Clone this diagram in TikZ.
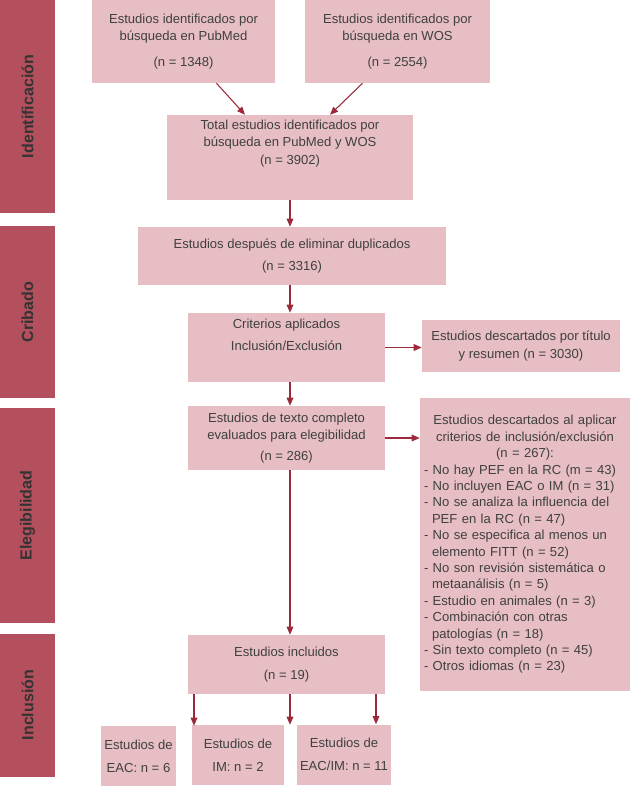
\documentclass[tikz,border=0pt]{standalone}
\usepackage{fontspec}
\setmainfont{Liberation Sans}
\usetikzlibrary{arrows.meta, positioning, calc}
\definecolor{boxpink}{HTML}{E6BEC4}
\definecolor{barred}{HTML}{B4505E}
\definecolor{arrowred}{HTML}{9C2A3C}

\begin{document}
\begin{tikzpicture}[x=0.75pt, y=-0.75pt, >={Triangle[width=5pt,length=6pt]},
    box/.style={fill=boxpink, inner sep=2pt, align=center, font=\fontsize{9.8}{13}\selectfont, text=black!75},
    stage/.style={fill=barred, text=black!80, font=\bfseries\fontsize{12}{14}\selectfont, rotate=90},
    flow/.style={->, arrowred, thick}
  ]
  \useasboundingbox (0,0) rectangle (631,799);

  % stage bars on the left
  \node[stage, minimum width=213*0.75pt, minimum height=55*0.75pt] (sId) at (27.5,106.5) {Identificación};
  \node[stage, minimum width=172*0.75pt, minimum height=55*0.75pt] (sCr) at (27.5,312) {Cribado};
  \node[stage, minimum width=215*0.75pt, minimum height=55*0.75pt] (sEl) at (27.5,515.5) {Elegibilidad};
  \node[stage, minimum width=143*0.75pt, minimum height=55*0.75pt] (sIn) at (27.5,705) {Inclusión};

  % identification boxes
  \node[box, minimum width=183*0.75pt, minimum height=83*0.75pt] (pub) at (183.5,41.5)
    {Estudios identificados por\\búsqueda en PubMed\\[6pt](n = 1348)};
  \node[box, minimum width=185*0.75pt, minimum height=83*0.75pt] (wos) at (397.5,41.5)
    {Estudios identificados por\\búsqueda en WOS\\[6pt](n = 2554)};
  \node[box, minimum width=246*0.75pt, minimum height=85*0.75pt] (tot) at (290,157.5)
    {Total estudios identificados por\\búsqueda en PubMed y WOS\\(n = 3902)\\[10pt]};

  % screening
  \node[box, minimum width=308*0.75pt, minimum height=58*0.75pt] (dup) at (292,256)
    {Estudios después de eliminar duplicados\\[4pt](n = 3316)};
  \node[box, minimum width=197*0.75pt, minimum height=69*0.75pt] (crit) at (286.5,347.5)
    {Criterios aplicados\\[3pt]Inclusión/Exclusión\\[6pt]};
  \node[box, minimum width=198*0.75pt, minimum height=52*0.75pt] (desc1) at (521,346)
    {Estudios descartados por título\\y resumen (n = 3030)};

  % eligibility
  \node[box, minimum width=197*0.75pt, minimum height=64*0.75pt] (full) at (286.5,438)
    {Estudios de texto completo\\evaluados para elegibilidad\\[3pt](n = 286)};
  \node[box, minimum width=210*0.75pt, minimum height=293*0.75pt, text width=202*0.75pt, align=left,
        font=\fontsize{9.8}{12.3}\selectfont] (desc2) at (525,544.5)
    {\centering Estudios descartados al aplicar\\criterios de inclusión/exclusión\\(n = 267):\par
     \raggedright
     - No hay PEF en la RC (m = 43)\\
     - No incluyen EAC o IM (n = 31)\\
     - No se analiza la influencia del\\\hspace*{6pt}PEF en la RC (n = 47)\\
     - No se especifica al menos un\\\hspace*{6pt}elemento FITT (n = 52)\\
     - No son revisión sistemática o\\\hspace*{6pt}metaanálisis (n = 5)\\
     - Estudio en animales (n = 3)\\
     - Combinación con otras\\\hspace*{6pt}patologías (n = 18)\\
     - Sin texto completo (n = 45)\\
     - Otros idiomas (n = 23)};

  % inclusion
  \node[box, minimum width=197*0.75pt, minimum height=59*0.75pt] (inc) at (286.5,664.5)
    {Estudios incluidos\\[4pt](n = 19)};
  \node[box, minimum width=75*0.75pt, minimum height=60*0.75pt] (eac) at (138.5,756)
    {Estudios de\\[4pt]EAC: n = 6};
  \node[box, minimum width=92*0.75pt, minimum height=60*0.75pt] (im) at (238,755)
    {Estudios de\\[4pt]IM: n = 2};
  \node[box, minimum width=92*0.75pt, minimum height=60*0.75pt] (both) at (344,754.5)
    {Estudios de\\[4pt]EAC/IM: n = 11};

  % connectors
  \draw[flow] ($(pub.south)+(33,0)$) -- ($(tot.north)+(-45,0)$);
  \draw[flow] ($(wos.south)+(-35,0)$) -- ($(tot.north)+(40,0)$);
  \draw[flow] (tot.south) -- (dup.north -| tot.south);
  \draw[flow] (dup.south -| tot.south) -- (crit.north -| tot.south);
  \draw[flow] (crit.south -| tot.south) -- (full.north -| tot.south);
  \draw[flow] (full.south -| tot.south) -- (inc.north -| tot.south);
  \draw[flow] (crit.east) -- (desc1.west |- crit.east);
  \draw[flow] (full.east) -- (desc2.west |- full.east);
  \draw[flow] (inc.south -| 194,0) -- (eac.north -| 194,0);
  \draw[flow] (inc.south -| tot.south) -- (im.north -| tot.south);
  \draw[flow] (inc.south -| 376,0) -- (both.north -| 376,0);
\end{tikzpicture}
\end{document}
